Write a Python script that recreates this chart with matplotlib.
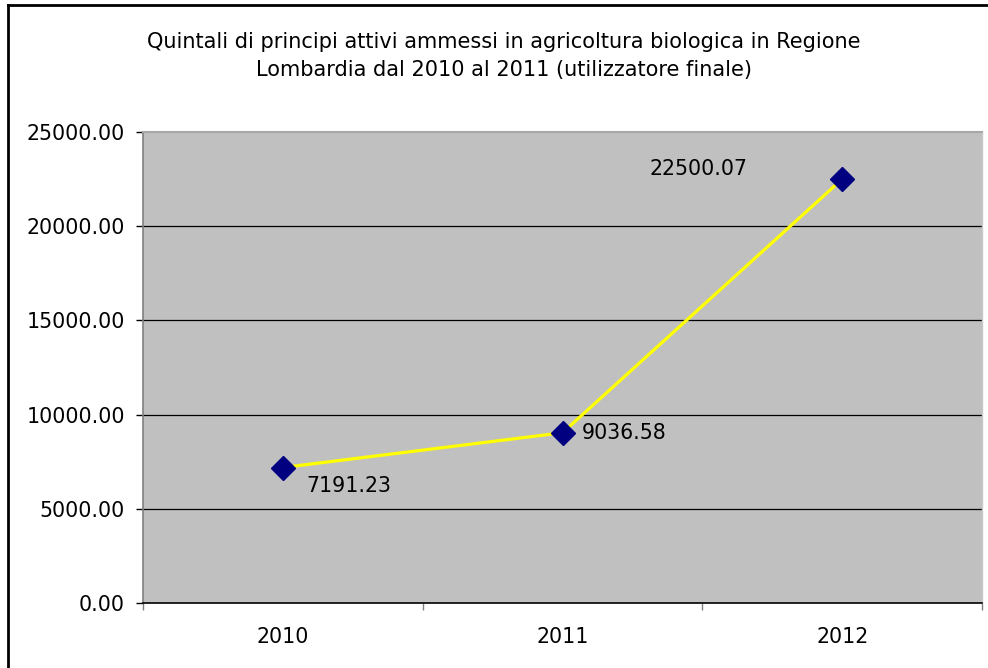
import matplotlib
matplotlib.use("Agg")
import matplotlib.pyplot as plt
from matplotlib.lines import Line2D

years = ["2010", "2011", "2012"]
values = [7191.23, 9036.58, 22500.07]
labels = ["7191.23", "9036.58", "22500.07"]
yticks = [0, 5000, 10000, 15000, 20000, 25000]
title = "Quintali di principi attivi ammessi in agricoltura biologica in Regione\nLombardia dal 2010 al 2011 (utilizzatore finale)"

plt.rcParams['font.family'] = ['DejaVu Sans']
W, H = 988, 668
fig = plt.figure(figsize=(W / 100, H / 100), dpi=100)
ax = fig.add_axes([143 / W, 1 - 603 / H, (982 - 143) / W, (603 - 132) / H])
ax.set_facecolor('#C0C0C0')

x = list(range(len(years)))
ax.set_xlim(-0.5, len(years) - 0.5)
ax.set_ylim(0, 25000)

for yv in yticks[1:-1]:
    ax.axhline(yv, color='#000000', lw=0.9, zorder=1)

ax.plot(x, values, color='#FFFF00', lw=2.3, zorder=3)
ax.plot(x, values, linestyle='none', marker='D', markersize=12.5, color='#000080', zorder=4)

offsets = [((17, -13), 'left'), ((14, 0), 'left'), ((-68, 7), 'right')]
for xi, v, lab, (off, ha) in zip(x, values, labels, offsets):
    ax.annotate(lab, (xi, v), xytext=off, textcoords='offset points', ha=ha, va='center', fontsize=14.8, color='#000000')

ax.set_yticks(yticks)
ax.set_yticklabels([f"{v:.2f}" for v in yticks], fontsize=14.8)
ax.set_xticks(x)
ax.set_xticklabels(years, fontsize=14.8)
ax.tick_params(axis='x', length=0, pad=17)
ax.tick_params(axis='y', length=5, width=1, color='#000000', pad=8)
# category boundary ticks
ax.set_xticks([-0.5, 0.5, 1.5, 2.5], minor=True)
ax.tick_params(axis='x', which='minor', length=5, width=1, color='#808080')

ax.spines['bottom'].set_color('#000000')
ax.spines['bottom'].set_linewidth(1.2)
ax.spines['left'].set_color('#808080')
ax.spines['left'].set_linewidth(1.2)
ax.spines['top'].set_color('#A8A8A8')
ax.spines['top'].set_linewidth(1.5)
ax.spines['right'].set_color('#C8C8C8')
ax.spines['right'].set_linewidth(1.0)

fig.text(504 / W, 1 - 56 / H, title, ha='center', va='center', fontsize=15, linespacing=1.5)

# outer chart border (top and left visible)
fig.add_artist(Line2D([8 / W, 8 / W], [0, 1 - 5 / H], transform=fig.transFigure, color='black', lw=2))
fig.add_artist(Line2D([8 / W, 1], [1 - 5 / H, 1 - 5 / H], transform=fig.transFigure, color='black', lw=2))

fig.savefig("out.png", dpi=100)
